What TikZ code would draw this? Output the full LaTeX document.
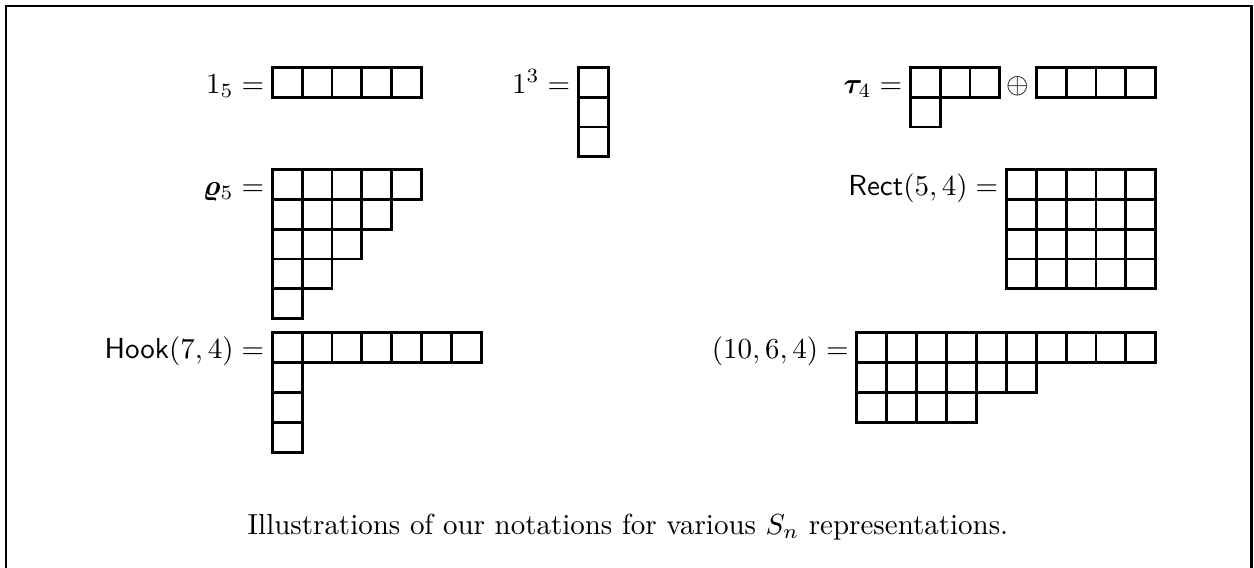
\documentclass[tikz,border=0pt]{standalone}
\usepackage{amsmath}
\usepackage{bm}
\newcommand{\bx}{29.9}
\newcommand{\youngd}[3]{%
  \foreach \len [count=\r from 0] in {#3} {%
    \foreach \c in {1,...,\len} {%
      \draw[cellbox] ({#1+(\c-1)*\bx},{#2+\r*\bx}) rectangle ++(\bx,\bx);
    }%
  }%
}
\begin{document}
\begin{tikzpicture}[x=0.345pt,y=-0.345pt,
  cellbox/.style={line width=1pt,line join=miter},
  framestyle/.style={line width=0.95pt},
  lab/.style={inner sep=0pt,outer sep=0pt,anchor=base east},
  capt/.style={inner sep=0pt,outer sep=0pt,anchor=base}]
\useasboundingbox (0,0) rectangle (1254,568);
% frame
\draw[framestyle] (6,568) -- (6,6) -- (1251.8,6) -- (1251.8,568);
% row 1
\coordinate (d1) at (272.2,67.2);
\youngd{272.2}{67.2}{5}
\node[lab] (l1) at (264.2,93.2) {$1_5 =$};
\coordinate (d2) at (578.2,67.2);
\youngd{578.2}{67.2}{1,1,1}
\node[lab] (l2) at (570.2,93.2) {$1^3 =$};
\coordinate (d3a) at (910.2,67.2);
\youngd{910.2}{67.2}{3,1}
\node[lab] (l3) at (902.2,93.2) {$\bm{\tau}_4 =$};
\node[inner sep=0pt,anchor=base] (op) at (1018,93.2) {$\oplus$};
\coordinate (d3b) at (1036.2,67.2);
\youngd{1036.2}{67.2}{4}
% row 2
\coordinate (d4) at (272.2,169.3);
\youngd{272.2}{169.3}{5,4,3,2,1}
\node[lab] (l4) at (264.2,195.3) {$\bm{\varrho}_5 =$};
\coordinate (d5) at (1006.3,169.3);
\youngd{1006.3}{169.3}{5,5,5,5}
\node[lab] (l5) at (998.3,195.3) {$\mathsf{Rect}(5,4) =$};
% row 3
\coordinate (d6) at (272.2,332.5);
\youngd{272.2}{332.5}{7,1,1,1}
\node[lab] (l6) at (264.2,358.5) {$\mathsf{Hook}(7,4) =$};
\coordinate (d7) at (856.8,332.5);
\youngd{856.8}{332.5}{10,6,4}
\node[lab] (l7) at (848.8,358.5) {$(10,6,4) =$};
% caption
\node[capt] (cap) at (628,534) {Illustrations of our notations for various $S_n$ representations.};
\end{tikzpicture}
\end{document}
